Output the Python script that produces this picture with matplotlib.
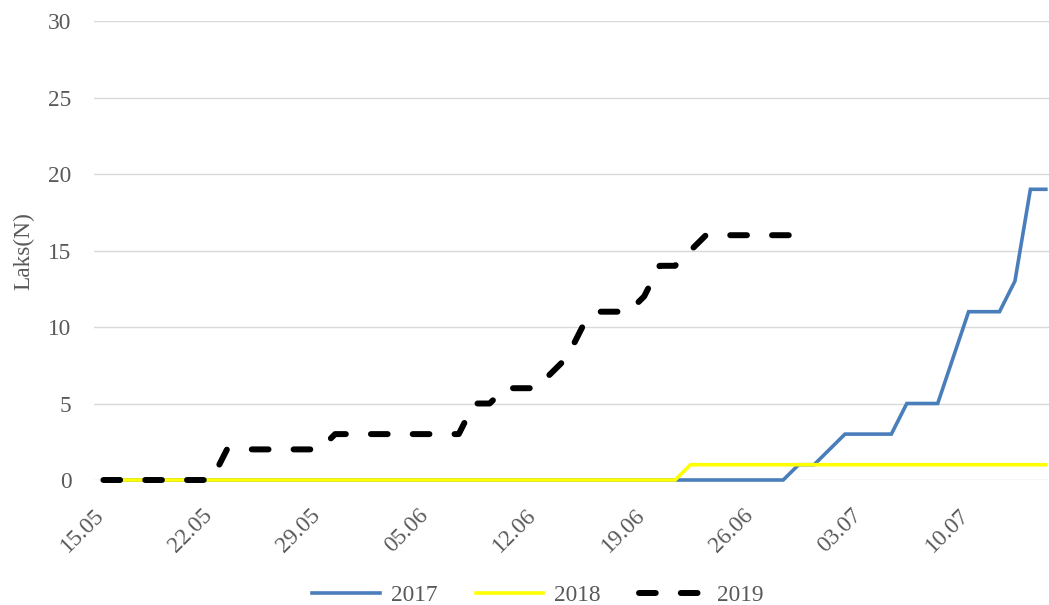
import matplotlib
matplotlib.use("Agg")
import matplotlib.pyplot as plt
import matplotlib.transforms as mtransforms
import numpy as np
import pandas as pd

# ---- data ----
dates = pd.date_range("2019-05-15", "2019-07-15", freq="D")
categories = [d.strftime("%d.%m") for d in dates]          # 15.05 ... 15.07

y2017 = [0, 0, 0, 0, 0, 0, 0, 0, 0, 0,
         0, 0, 0, 0, 0, 0, 0, 0, 0, 0,
         0, 0, 0, 0, 0, 0, 0, 0, 0, 0,
         0, 0, 0, 0, 0, 0, 0, 0, 0, 0,
         0, 0, 0, 0, 0, 1, 1, 2, 3, 3,
         3, 3, 5, 5, 5, 8, 11, 11, 11, 13,
         19, 19]
y2018 = [0, 0, 0, 0, 0, 0, 0, 0, 0, 0,
         0, 0, 0, 0, 0, 0, 0, 0, 0, 0,
         0, 0, 0, 0, 0, 0, 0, 0, 0, 0,
         0, 0, 0, 0, 0, 0, 0, 0, 1, 1,
         1, 1, 1, 1, 1, 1, 1, 1, 1, 1,
         1, 1, 1, 1, 1, 1, 1, 1, 1, 1,
         1, 1]
y2019 = [0, 0, 0, 0, 0, 0, 0, 0, 2, 2,
         2, 2, 2, 2, 2, 3, 3, 3, 3, 3,
         3, 3, 3, 3, 5, 5, 6, 6, 6, 7,
         8, 10, 11, 11, 11, 12, 14, 14, 15, 16,
         16, 16, 16, 16, 16, 16]
series_names = ["2017", "2018", "2019"]
yticks = [0, 5, 10, 15, 20, 25, 30]
label_step = 7
ylabel = "Laks(N)"

# ---- style ----
W, H = 1049, 605
text_color = "#595959"
grid_color = "#D9D9D9"
font = ["Liberation Serif", "DejaVu Serif"]
fs = 16.8

plt.rcParams["font.family"] = font

fig = plt.figure(figsize=(W / 100, H / 100), dpi=100)
left_px, right_px, top_px, bottom_px = 94.3, 1049, 21, 480
ax = fig.add_axes([left_px / W, 1 - bottom_px / H,
                   (right_px - left_px) / W, (bottom_px - top_px) / H])

x = np.arange(len(categories))
ax.plot(x, y2017, color="#4A7EBB", lw=2.6, solid_joinstyle="miter",
        clip_on=False, zorder=3, label=series_names[0])
ax.plot(x, y2018, color="#FFFF00", lw=2.6, solid_joinstyle="miter",
        clip_on=False, zorder=4, label=series_names[1])
ax.plot(np.arange(len(y2019)), y2019, color="black", lw=4.3,
        dashes=(2.8, 4.2), dash_capstyle="round", clip_on=False,
        zorder=5, label=series_names[2])

# x scale: first category at 103.4px, spacing 15.45px
spacing = 15.45
x0_px = 103.4
ax.set_xlim(-(x0_px - left_px) / spacing, (right_px - x0_px) / spacing)
ax.set_ylim(0, 30)

ax.set_yticks(yticks)
ax.set_yticklabels([str(v) for v in yticks], fontsize=fs, color=text_color)
tick_idx = list(range(0, len(categories), label_step))
ax.set_xticks(tick_idx)
ax.set_xticklabels([categories[i] for i in tick_idx], fontsize=fs,
                   color=text_color, rotation=45, ha="right", va="top",
                   rotation_mode="anchor")
ax.tick_params(axis="both", length=0)
ax.tick_params(axis="y", pad=16.5)
ax.tick_params(axis="x", pad=18)
shift = mtransforms.ScaledTranslation(-10 / 100, 0, fig.dpi_scale_trans)
for lab in ax.get_xticklabels():
    lab.set_transform(lab.get_transform() + shift)

for s in ax.spines.values():
    s.set_visible(False)
ax.yaxis.grid(True, color=grid_color, lw=1.0)
ax.set_axisbelow(True)

fig.text(24 / W, 1 - 251 / H, ylabel, rotation=90, ha="center", va="center",
         fontsize=fs, color=text_color)

leg = fig.legend(loc="center", bbox_to_anchor=(538 / W, 1 - 595 / H),
                 ncol=3, frameon=False, fontsize=fs, handlelength=2.9,
                 handletextpad=0.45, columnspacing=1.65, borderpad=0)
for t in leg.get_texts():
    t.set_color(text_color)

fig.savefig("out.png", dpi=100)
